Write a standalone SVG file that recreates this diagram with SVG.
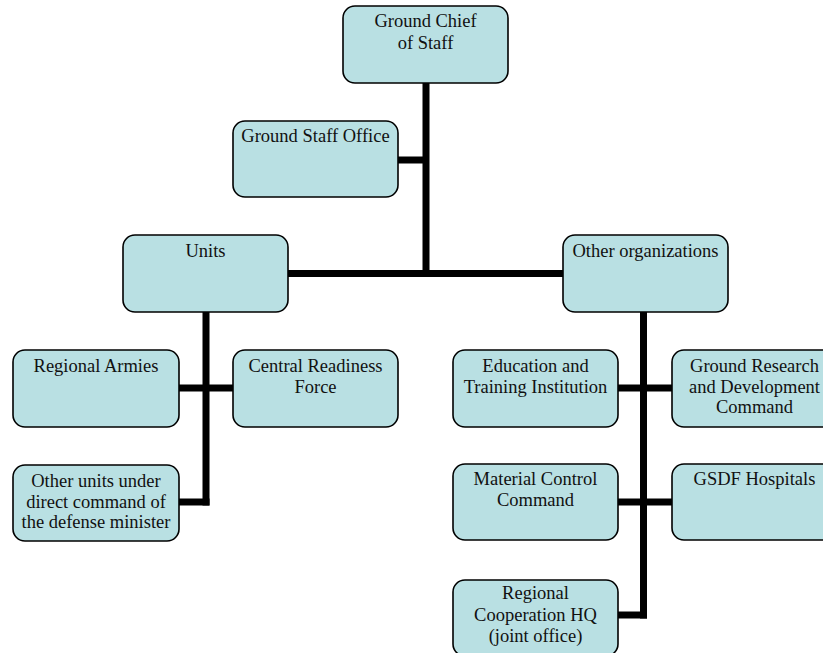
<svg xmlns="http://www.w3.org/2000/svg" width="823" height="653" viewBox="0 0 823 653">
  <style>
    .box { fill: #b9e0e3; stroke: #000; stroke-width: 1.6; }
    .lbl { font-family: "Liberation Serif", "Times New Roman", serif; font-size: 18.5px; fill: #111; text-anchor: middle; }
    .conn { stroke: #000; stroke-width: 7; fill: none; stroke-linecap: butt; }
  </style>
  <rect width="823" height="653" fill="#fff"/>

  <!-- connectors -->
  <g id="connectors" class="conn">
    <path d="M426 83 V277"/>
    <path d="M398 160 H426"/>
    <path d="M288 273.5 H563"/>
    <path d="M206 312 V505.5"/>
    <path d="M179 388 H233"/>
    <path d="M179 502 H209.5"/>
    <path d="M643.5 312 V618.5"/>
    <path d="M618 388 H672"/>
    <path d="M618 502 H672"/>
    <path d="M618 615 H647"/>
  </g>

  <g id="ground-chief">
    <rect class="box" x="343" y="6" width="165" height="77" rx="12"/>
    <text class="lbl" x="425.5"><tspan x="425.5" y="27">Ground Chief</tspan><tspan x="425.5" y="49">of Staff</tspan></text>
  </g>

  <g id="ground-staff-office">
    <rect class="box" x="233" y="121" width="165" height="76" rx="12"/>
    <text class="lbl" x="315.5" y="142">Ground Staff Office</text>
  </g>

  <g id="units">
    <rect class="box" x="123" y="235" width="165" height="77" rx="12"/>
    <text class="lbl" x="205.5" y="257">Units</text>
  </g>

  <g id="other-organizations">
    <rect class="box" x="563" y="235" width="165" height="77" rx="12"/>
    <text class="lbl" x="645.5" y="257">Other organizations</text>
  </g>

  <g id="regional-armies">
    <rect class="box" x="13" y="350" width="166" height="77" rx="12"/>
    <text class="lbl" x="96" y="372">Regional Armies</text>
  </g>

  <g id="central-readiness-force">
    <rect class="box" x="233" y="350" width="165" height="77" rx="12"/>
    <text class="lbl"><tspan x="315.5" y="372">Central Readiness</tspan><tspan x="315.5" y="392.5">Force</tspan></text>
  </g>

  <g id="other-units">
    <rect class="box" x="13" y="465" width="166" height="76" rx="12"/>
    <text class="lbl"><tspan x="96" y="487">Other units under</tspan><tspan x="96" y="507.5">direct command of</tspan><tspan x="96" y="528">the defense minister</tspan></text>
  </g>

  <g id="education-training">
    <rect class="box" x="453" y="350" width="165" height="77" rx="12"/>
    <text class="lbl"><tspan x="535.5" y="372">Education and</tspan><tspan x="535.5" y="392.5">Training Institution</tspan></text>
  </g>

  <g id="ground-research">
    <rect class="box" x="672" y="350" width="165" height="77" rx="12"/>
    <text class="lbl"><tspan x="754.5" y="372">Ground Research</tspan><tspan x="754.5" y="392.5">and Development</tspan><tspan x="754.5" y="413">Command</tspan></text>
  </g>

  <g id="material-control">
    <rect class="box" x="453" y="464" width="165" height="76" rx="12"/>
    <text class="lbl"><tspan x="535.5" y="485">Material Control</tspan><tspan x="535.5" y="505.5">Command</tspan></text>
  </g>

  <g id="gsdf-hospitals">
    <rect class="box" x="672" y="464" width="165" height="76" rx="12"/>
    <text class="lbl" x="754.5" y="485">GSDF Hospitals</text>
  </g>

  <g id="regional-cooperation">
    <rect class="box" x="453" y="580" width="165" height="76" rx="12"/>
    <text class="lbl"><tspan x="535.5" y="599">Regional</tspan><tspan x="535.5" y="620.5">Cooperation HQ</tspan><tspan x="535.5" y="642">(joint office)</tspan></text>
  </g>
</svg>
